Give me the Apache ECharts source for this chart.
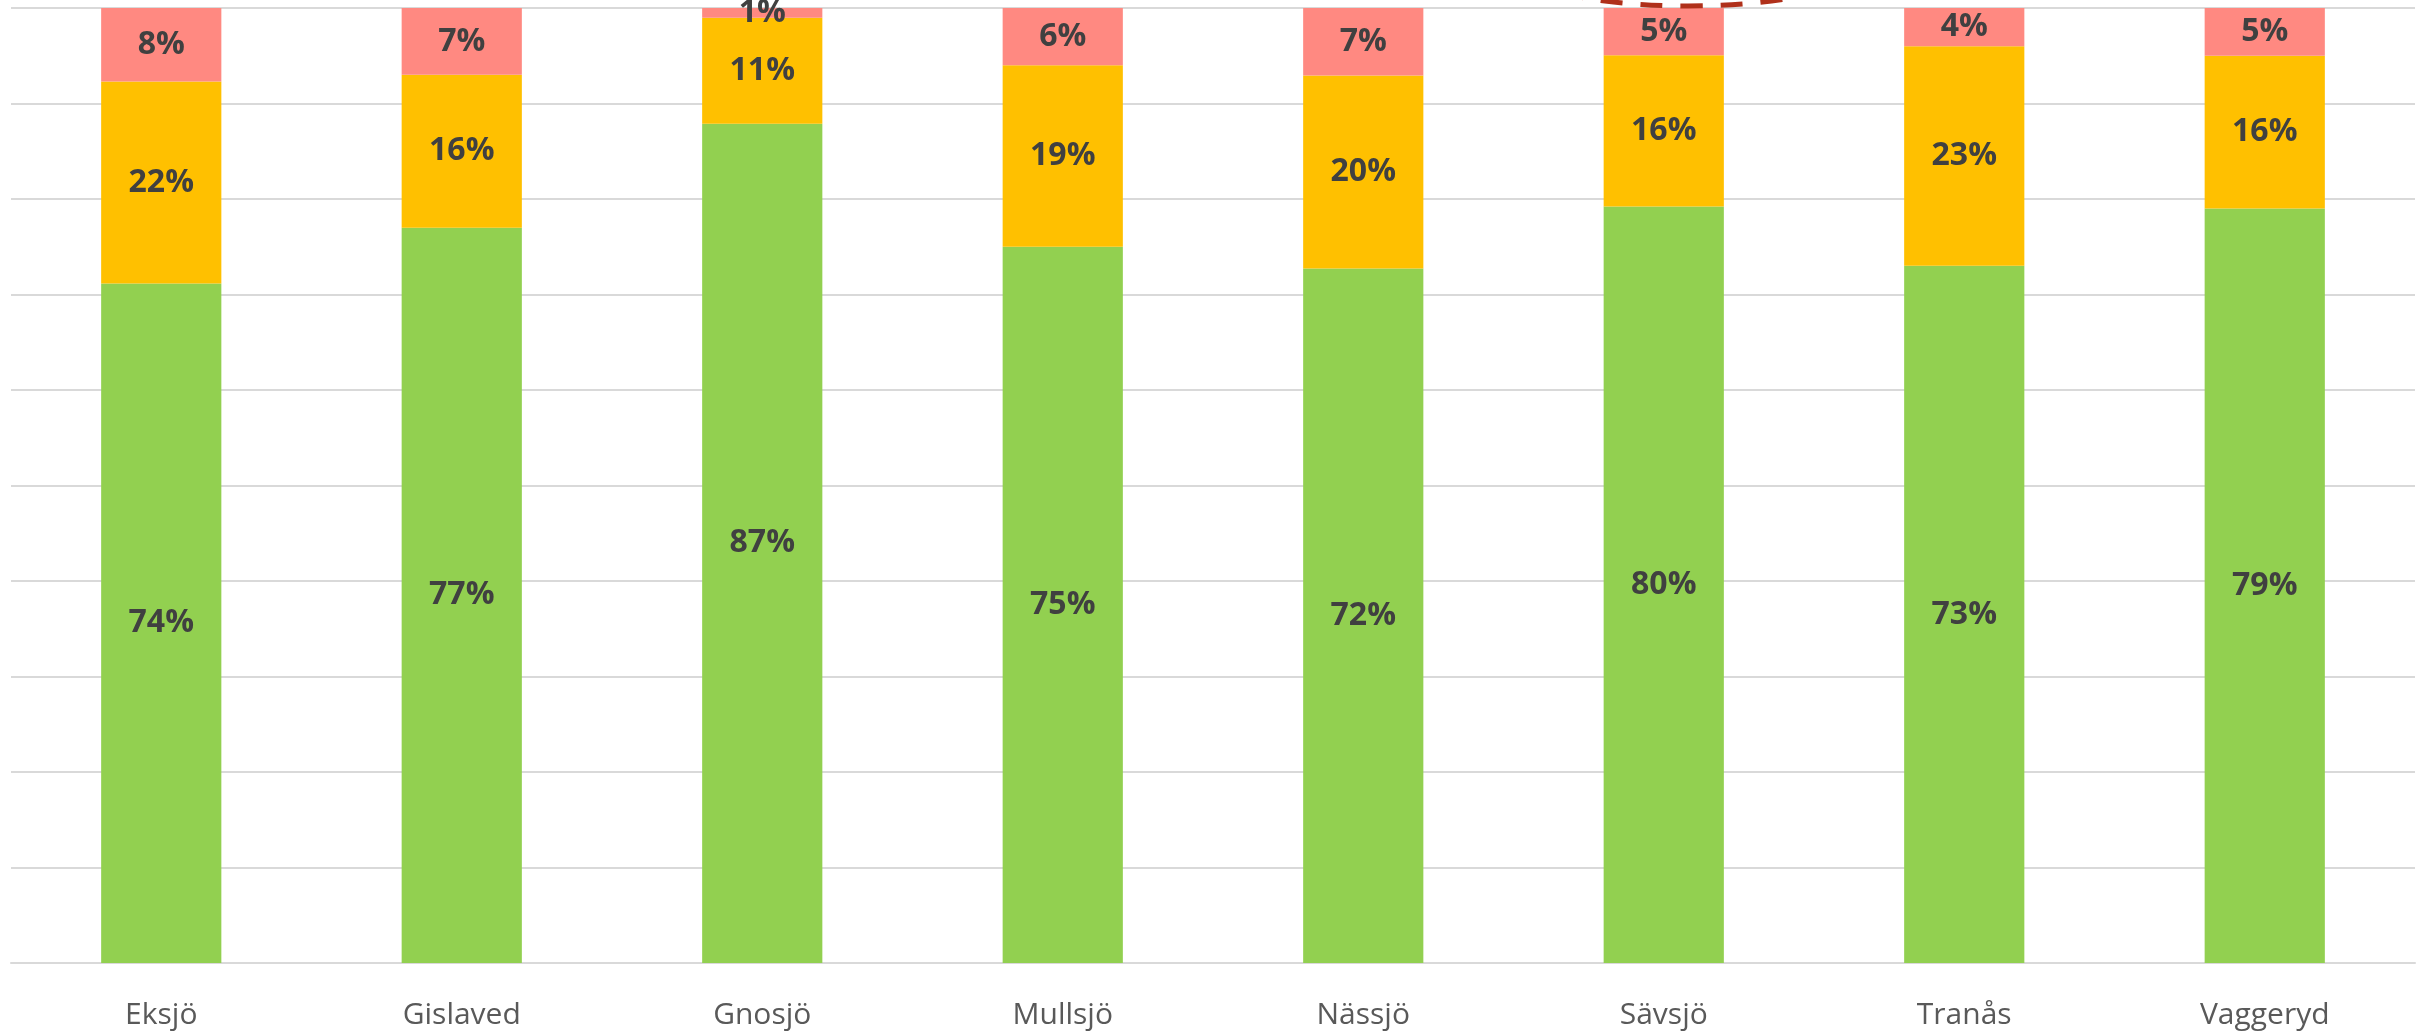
<!DOCTYPE html>
<html>
<head>
<meta charset="utf-8">
<title>Kommuner</title>
<script src="https://cdn.jsdelivr.net/npm/echarts@6/dist/echarts.min.js"></script>
<style>
  html, body { margin: 0; padding: 0; background: #fff; }
  #chart { width: 2430px; height: 1033px; }
</style>
</head>
<body>
<div id="chart"></div>
<script>
const categories = ['Eksjö', 'Gislaved', 'Gnosjö', 'Mullsjö', 'Nässjö', 'Sävsjö', 'Tranås', 'Vaggeryd']
const greenValues = [74, 77, 87, 75, 72, 80, 73, 79]
const yellowValues = [22, 16, 11, 19, 20, 16, 23, 16]
const redValues = [8, 7, 1, 6, 7, 5, 4, 5]
const colors = ['#92D050', '#FFC000', '#FF8981']

// 100% stacked: each bar is scaled to its own total, labels keep the raw value
const totals = categories.map((c, i) => greenValues[i] + yellowValues[i] + redValues[i])
function share (arr) {
  return arr.map((v, i) => ({ value: v / totals[i] * 100, raw: v }))
}

function makeSeries (name, arr, color) {
  return {
    name: name,
    type: 'bar',
    stack: 'total',
    barWidth: '40%',
    data: share(arr),
    itemStyle: { color: color },
    label: {
      show: true,
      position: 'inside',
      formatter: p => p.data.raw + '%',
      color: '#404040',
      fontFamily: 'Open Sans',
      fontWeight: 'bold',
      fontSize: 32
    }
  }
}

const myChart = echarts.init(document.getElementById('chart'))
myChart.setOption({
  animation: false,
  grid: { left: 11, right: 15, top: 8, bottom: 70 },
  xAxis: {
    type: 'category',
    data: categories,
    axisLine: { lineStyle: { color: '#D9D9D9', width: 2 } },
    axisTick: { show: false },
    axisLabel: {
      color: '#595959',
      fontFamily: 'Open Sans',
      fontSize: 30,
      margin: 37
    }
  },
  yAxis: {
    type: 'value',
    min: 0,
    max: 100,
    interval: 10,
    axisLabel: { show: false },
    axisLine: { show: false },
    axisTick: { show: false },
    splitLine: { lineStyle: { color: '#D9D9D9', width: 2 } }
  },
  series: [
    makeSeries('green', greenValues, colors[0]),
    makeSeries('yellow', yellowValues, colors[1]),
    makeSeries('red', redValues, colors[2])
  ],
  graphic: [
    {
      type: 'ellipse',
      shape: { cx: 1688, cy: -44, rx: 190, ry: 50 },
      style: { fill: 'none', stroke: '#B0301A', lineWidth: 5, lineDash: [22, 18] },
      z: 100
    }
  ]
})
</script>
</body>
</html>
